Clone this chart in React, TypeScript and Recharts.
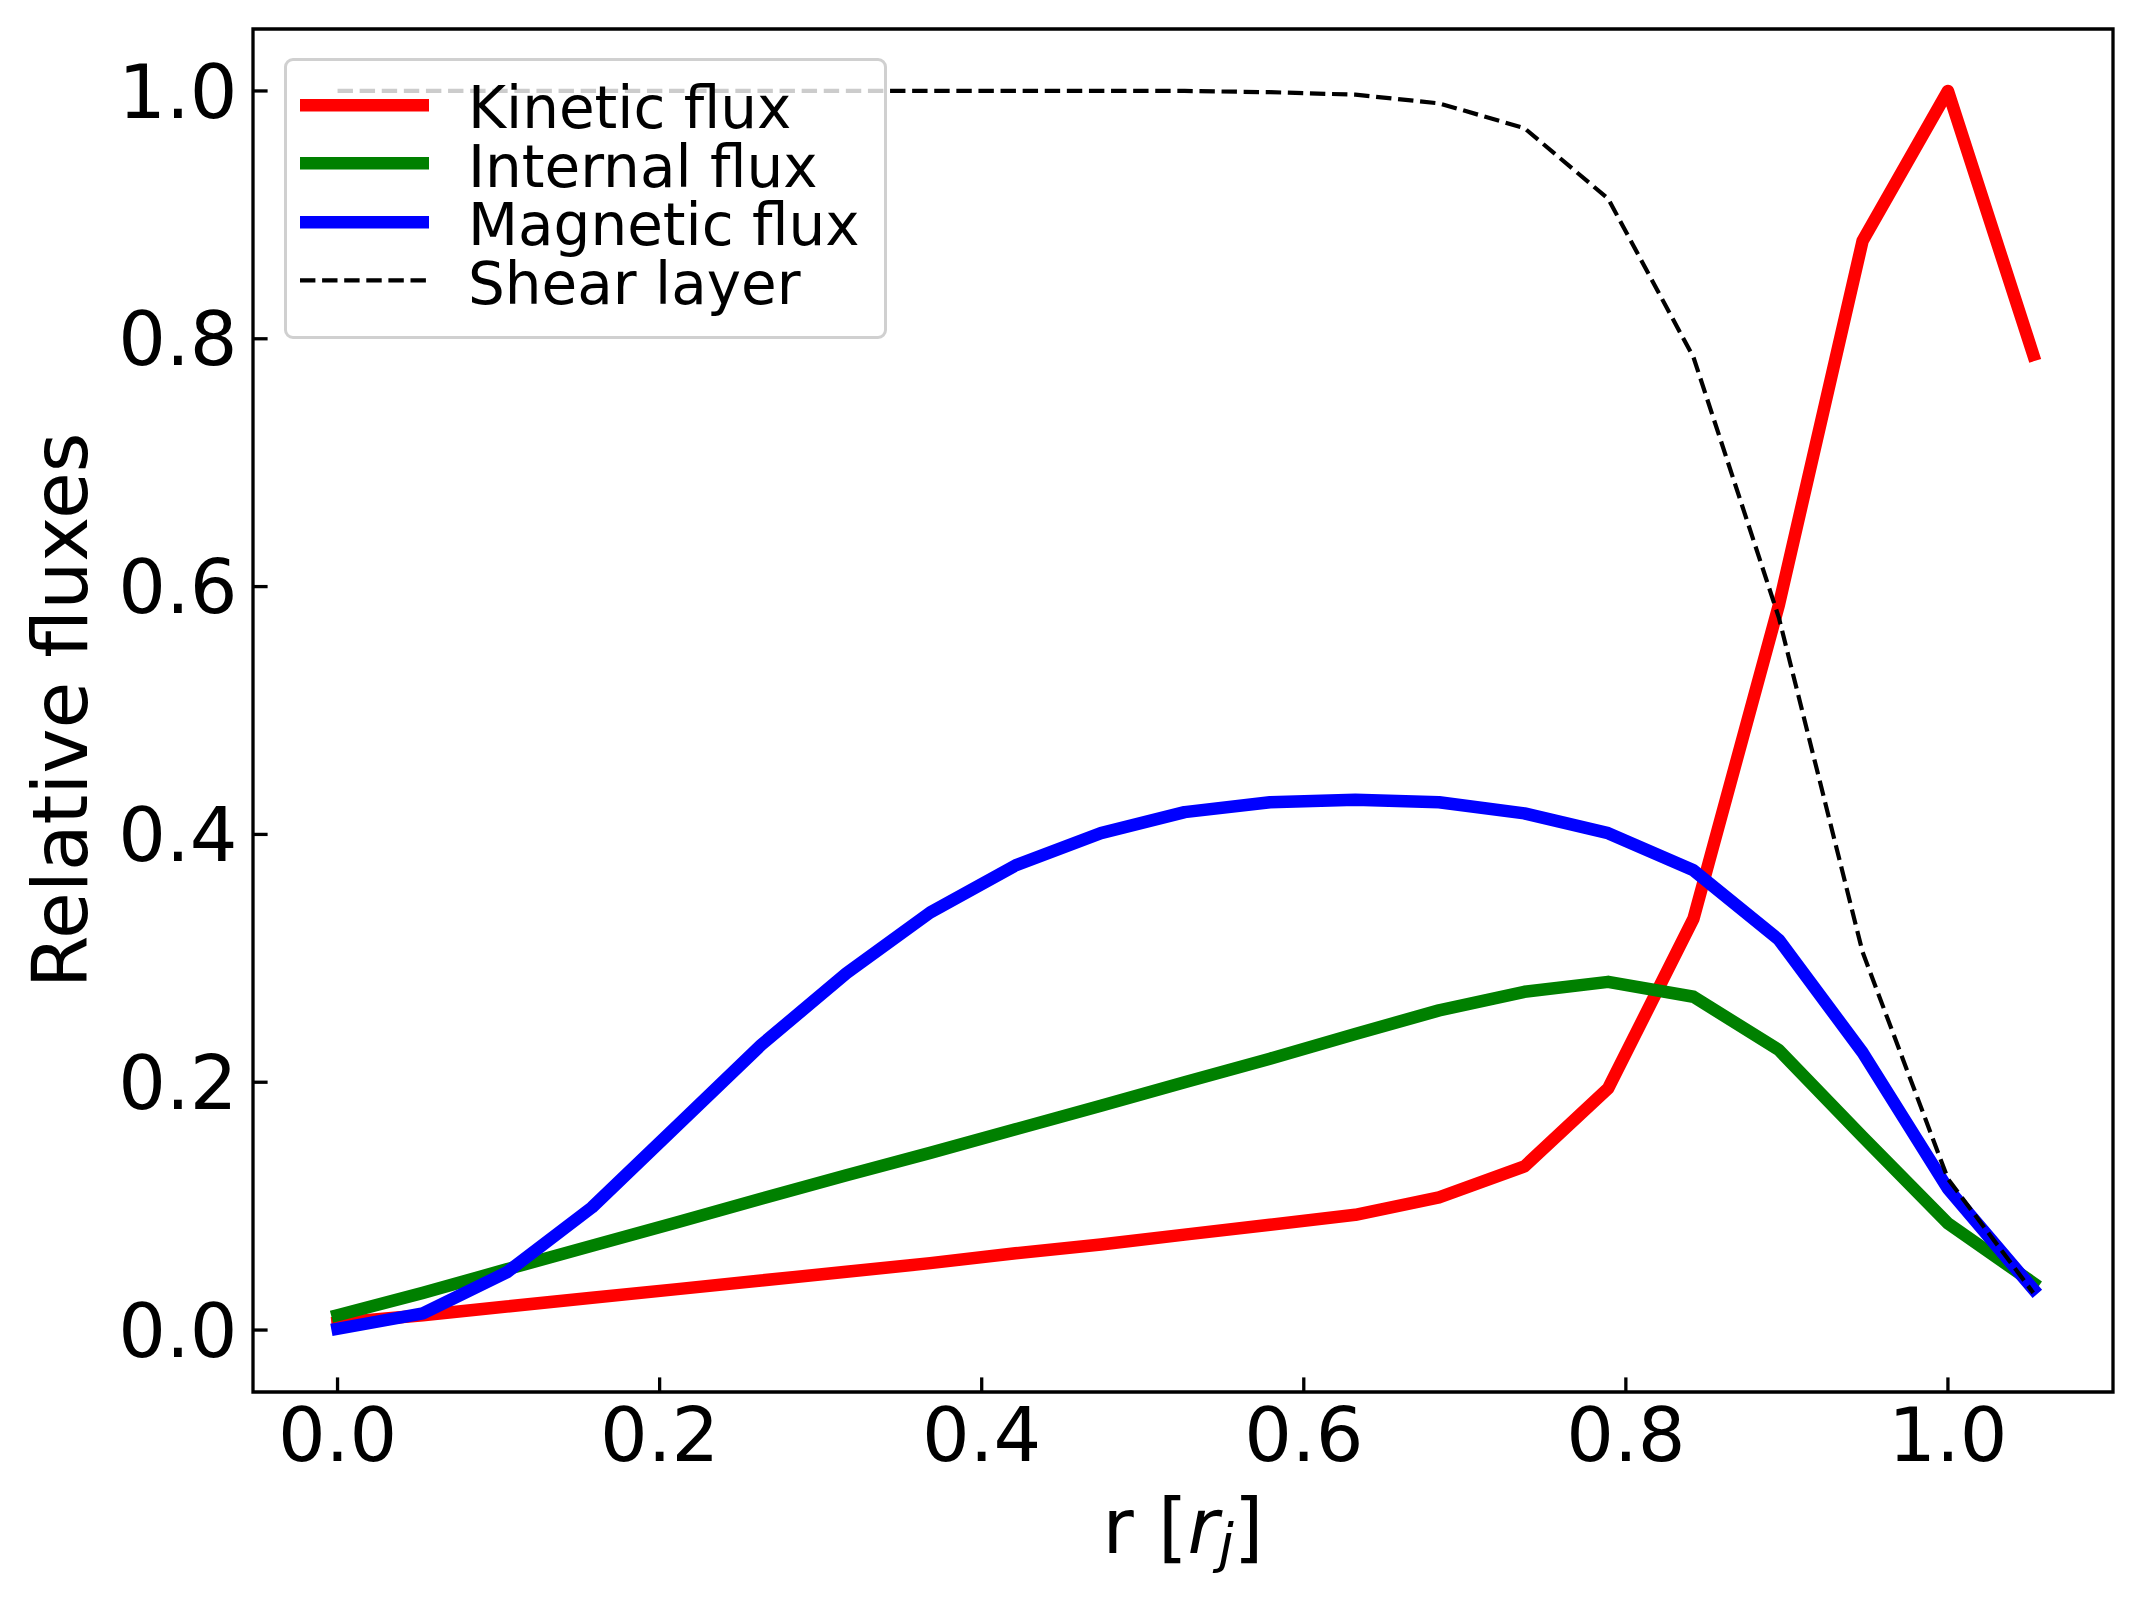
import { LineChart, Line, XAxis, YAxis, Legend, ReferenceArea } from "recharts";

const FONT = "'DejaVu Sans', sans-serif";

// radius in units of the jet radius
const radius = [
  0, 0.053, 0.105, 0.158, 0.211, 0.263, 0.316, 0.368, 0.421, 0.474, 0.526,
  0.579, 0.632, 0.684, 0.737, 0.789, 0.842, 0.895, 0.947, 1.0, 1.053,
];
const kinetic = [
  0.006, 0.012, 0.019, 0.026, 0.033, 0.04, 0.047, 0.054, 0.062, 0.069, 0.077,
  0.085, 0.093, 0.107, 0.132, 0.195, 0.332, 0.585, 0.879, 1.0, 0.787,
];
const internal = [
  0.012, 0.03, 0.049, 0.068, 0.087, 0.106, 0.125, 0.143, 0.162, 0.181, 0.2,
  0.219, 0.239, 0.258, 0.273, 0.281, 0.269, 0.226, 0.156, 0.086, 0.038,
];
const magnetic = [
  0.001, 0.0135, 0.0465, 0.099, 0.165, 0.23, 0.288, 0.337, 0.375, 0.401, 0.418,
  0.426, 0.428, 0.426, 0.417, 0.401, 0.371, 0.315, 0.224, 0.114, 0.033,
];
const shear = [
  1.0, 1.0, 1.0, 1.0, 1.0, 1.0, 1.0, 1.0, 1.0, 1.0, 1.0,
  0.999, 0.997, 0.99, 0.97, 0.913, 0.785, 0.575, 0.305, 0.122, 0.03,
];

const xTicks = [0, 0.2, 0.4, 0.6, 0.8, 1.0];
const yTicks = [0, 0.2, 0.4, 0.6, 0.8, 1.0];
const xDomain: [number, number] = [-0.0525, 1.1025];
const yDomain: [number, number] = [-0.05, 1.05];

const data = radius.map((r, i) => ({
  r,
  kinetic: kinetic[i],
  internal: internal[i],
  magnetic: magnetic[i],
  shear: shear[i],
}));

const series = [
  { key: "kinetic", name: "Kinetic flux", color: "#ff0000", width: 12.5, dash: undefined },
  { key: "internal", name: "Internal flux", color: "#008000", width: 12.5, dash: undefined },
  { key: "magnetic", name: "Magnetic flux", color: "#0000ff", width: 12.5, dash: undefined },
  { key: "shear", name: "Shear layer", color: "#000000", width: 4.2, dash: "15.4 6.7" },
];

// legend keeps the plotting order (recharts sorts its payload by name)
const renderLegend = (props: any) => {
  const payload = props.payload || [];
  const rows = series.filter((s) => payload.some((p: any) => p.value === s.name));
  return (
    <div
      style={{
        boxSizing: "border-box",
        width: 603,
        height: 281,
        border: "3px solid #d0d0d0",
        borderRadius: 9,
        background: "rgba(255,255,255,0.8)",
        paddingTop: 14.7,
        paddingLeft: 13,
        fontFamily: FONT,
        fontSize: 58,
        color: "#000",
      }}
    >
      {rows.map((s) => (
        <div key={s.key} style={{ display: "flex", alignItems: "center", height: 58.6 }}>
          <svg width={129} height={58.6} style={{ display: "block" }}>
            <line
              x1={0}
              x2={129}
              y1={29.3}
              y2={29.3}
              stroke={s.color}
              strokeWidth={s.width}
              strokeDasharray={s.dash}
            />
          </svg>
          <span
            style={{
              display: "inline-block",
              marginLeft: 39,
              height: 56,
              lineHeight: "56px",
              position: "relative",
              top: 3,
              whiteSpace: "nowrap",
            }}
          >
            {s.name}
          </span>
        </div>
      ))}
    </div>
  );
};

const XLabel = (props: any) => {
  const vb = props.viewBox;
  return (
    <text
      x={vb.x + vb.width / 2}
      y={vb.y + 161}
      textAnchor="middle"
      fontFamily={FONT}
      fontSize={76}
      fill="#000"
    >
      <tspan>r [</tspan>
      <tspan fontStyle="italic">r</tspan>
      <tspan fontStyle="italic" fontSize={54} dy={9}>
        j
      </tspan>
      <tspan dy={-9}>]</tspan>
    </text>
  );
};

const YLabel = (props: any) => {
  const vb = props.viewBox;
  const cx = vb.x + 87;
  const cy = vb.y + vb.height / 2;
  return (
    <text
      x={cx}
      y={cy}
      transform={`rotate(-90 ${cx} ${cy})`}
      textAnchor="middle"
      fontFamily={FONT}
      fontSize={76}
      fill="#000"
    >
      Relative fluxes
    </text>
  );
};

export default function App() {
  return (
    <div style={{ position: "absolute", left: 0, top: 0, width: 2143, height: 1608, background: "#fff" }}>
      <LineChart
        width={2143}
        height={1608}
        data={data}
        margin={{ top: 29, right: 30, bottom: 0, left: 0 }}
      >
        <XAxis
          dataKey="r"
          type="number"
          domain={xDomain}
          ticks={xTicks}
          allowDataOverflow
          height={216}
          axisLine={false}
          tickLine={{ stroke: "#000", strokeWidth: 3.3 }}
          tickSize={-14.6}
          tickMargin={30}
          tickFormatter={(v: number) => v.toFixed(1)}
          tick={{ fill: "#000", fontSize: 75, fontFamily: FONT }}
          label={<XLabel />}
        />
        <YAxis
          type="number"
          domain={yDomain}
          ticks={yTicks}
          allowDataOverflow
          width={253}
          axisLine={false}
          tickLine={{ stroke: "#000", strokeWidth: 3.3 }}
          tickSize={-14.6}
          tickMargin={30}
          tickFormatter={(v: number) => v.toFixed(1)}
          tick={{ fill: "#000", fontSize: 75, fontFamily: FONT }}
          label={<YLabel />}
        />
        {series.map((s) => (
          <Line
            key={s.key}
            dataKey={s.key}
            name={s.name}
            type="linear"
            stroke={s.color}
            strokeWidth={s.width}
            strokeDasharray={s.dash}
            strokeLinecap={s.dash ? "butt" : "square"}
            strokeLinejoin="round"
            dot={false}
            activeDot={false}
            isAnimationActive={false}
          />
        ))}
        <ReferenceArea
          x1={xDomain[0]}
          x2={xDomain[1]}
          y1={yDomain[0]}
          y2={yDomain[1]}
          fill="none"
          stroke="#000"
          strokeWidth={3.3}
          ifOverflow="visible"
        />
        <Legend
          layout="horizontal"
          verticalAlign="middle"
          align="center"
          content={renderLegend}
          wrapperStyle={{ left: 284, top: 58, width: 603, height: 281 }}
        />
      </LineChart>
    </div>
  );
}
